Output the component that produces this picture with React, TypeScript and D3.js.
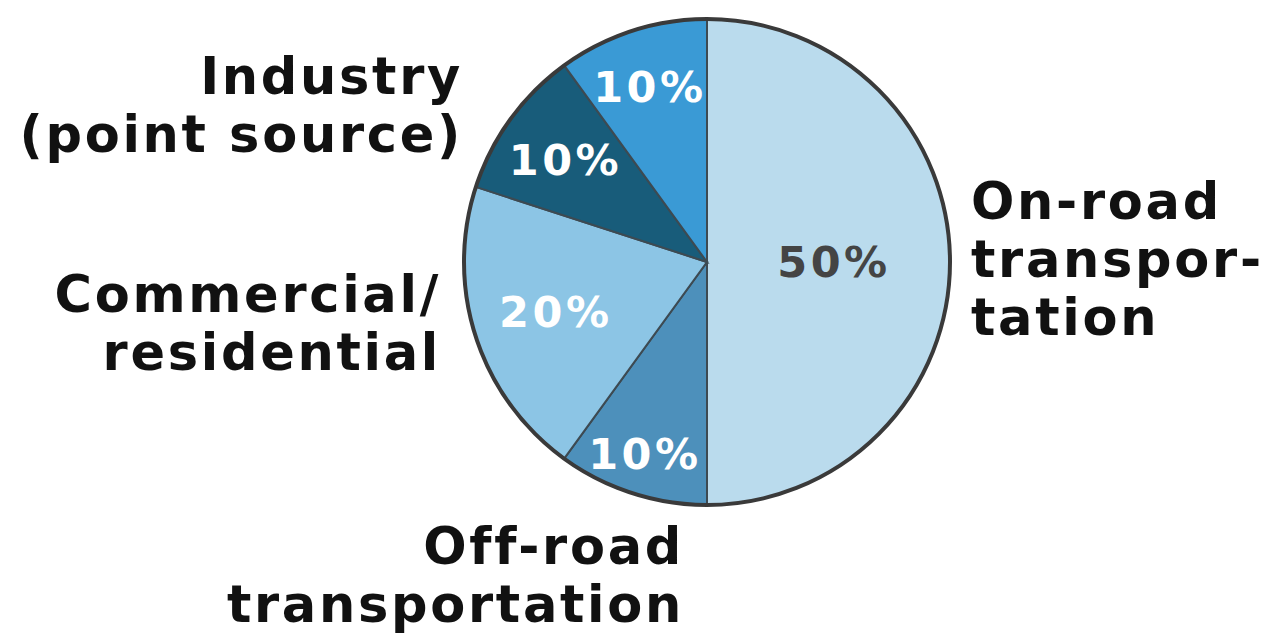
import React from "react";
import * as d3 from "d3";

const categories = ["On-road transportation", "Off-road transportation", "Commercial/residential", "Industry (point source)", "Other"];
const shares = [50, 10, 20, 10, 10];
const percentLabels = ["50%", "10%", "20%", "10%", "10%"];
const colors = ["#badbed", "#4d90bb", "#8cc5e5", "#185c7a", "#3a9ad5"];
const percentColors = ["#444444", "#ffffff", "#ffffff", "#ffffff", "#ffffff"];
const labelRadii = [127, 201, 159, 175, 185];

const categoryLines: { lines: string[]; x: number; y: number; anchor: string }[] = [
  { lines: ["On-road", "transpor-", "tation"], x: 971, y: 219, anchor: "start" },
  { lines: ["Off-road", "transportation"], x: 684, y: 564, anchor: "end" },
  { lines: ["Commercial/", "residential"], x: 441, y: 312, anchor: "end" },
  { lines: ["Industry", "(point source)"], x: 463, y: 94, anchor: "end" },
];

export default function App() {
  const width = 1268;
  const height = 637;
  const cx = 707;
  const cy = 262;
  const R = 243;
  const pie = d3.pie<number>().sort(null).value((d) => d)(shares);
  const arc = d3.arc<d3.PieArcDatum<number>>().innerRadius(0).outerRadius(R);
  const font = "'DejaVu Sans', Verdana, sans-serif";
  return (
    <svg width={width} height={height} style={{ position: "absolute", left: 0, top: 0, background: "#fff" }}>
      <g transform={`translate(${cx},${cy})`}>
        {pie.map((p, i) => (
          <path key={i} d={arc(p) || ""} fill={colors[i]} stroke="#3d4a52" strokeWidth={2} />
        ))}
        <circle r={R} fill="none" stroke="#3a3a3a" strokeWidth={4} />
        {pie.map((p, i) => {
          const a = (p.startAngle + p.endAngle) / 2;
          const r = labelRadii[i];
          const x = Math.sin(a) * r;
          const y = -Math.cos(a) * r;
          return (
            <text
              key={"p" + i}
              x={x}
              y={y}
              dy="0.36em"
              textAnchor="middle"
              fontFamily={font}
              fontWeight="bold"
              fontSize={43}
              letterSpacing={3.5}
              fill={percentColors[i]}
            >
              {percentLabels[i]}
            </text>
          );
        })}
      </g>
      {categoryLines.map((c, i) => (
        <text
          key={"c" + i}
          x={c.x}
          y={c.y}
          textAnchor={c.anchor as any}
          fontFamily={font}
          fontWeight="bold"
          fontSize={51}
          letterSpacing={2.7}
          fill="#111"
        >
          {c.lines.map((l, j) => (
            <tspan key={j} x={c.x} dy={j === 0 ? 0 : 58}>
              {l}
            </tspan>
          ))}
        </text>
      ))}
    </svg>
  );
}
